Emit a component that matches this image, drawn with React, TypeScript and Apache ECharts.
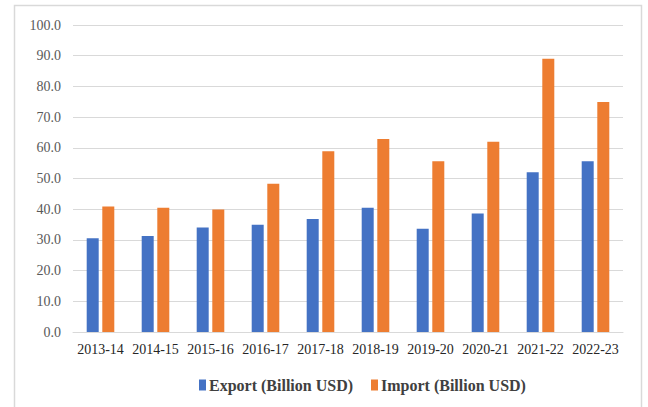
import React, { useEffect, useRef } from "react";
import * as echarts from "echarts";

const categories = ["2013-14", "2014-15", "2015-16", "2016-17", "2017-18", "2018-19", "2019-20", "2020-21", "2021-22", "2022-23"];
const exportValues = [30.5, 31.3, 34.0, 34.9, 36.8, 40.5, 33.6, 38.6, 52.0, 55.6];
const importValues = [40.9, 40.5, 39.9, 48.3, 58.9, 62.9, 55.6, 62.0, 89.0, 74.9];
const seriesNames = ["Export (Billion USD)", "Import (Billion USD)"];

export default function App() {
  const ref = useRef<HTMLDivElement>(null);
  useEffect(() => {
    document.body.style.margin = "0";
    const chart = echarts.init(ref.current!, null, { renderer: "svg" });
    const serif = "Liberation Serif, Times New Roman, serif";
    chart.setOption({
      animation: false,
      backgroundColor: "#ffffff",
      graphic: [
        {
          type: "rect",
          shape: { x: 14.5, y: 5.5, width: 627, height: 430 },
          style: { fill: "none", stroke: "#d9d9d9", lineWidth: 1.5 },
          silent: true,
        },
      ],
      grid: { left: 73, right: 25, top: 25, bottom: 75, containLabel: false },
      legend: {
        top: 372,
        left: 194,
        itemWidth: 7,
        itemHeight: 11,
        itemGap: 18,
        icon: "rect",
        textStyle: { fontFamily: serif, fontSize: 16, fontWeight: "bold", color: "#404040", padding: [0, 0, 0, -2] },
        data: seriesNames,
      },
      xAxis: {
        type: "category",
        data: categories,
        axisLine: { lineStyle: { color: "#d9d9d9", width: 1 } },
        axisTick: { show: false },
        axisLabel: { fontFamily: serif, fontSize: 14, color: "#262626", margin: 10, interval: 0 },
      },
      yAxis: {
        type: "value",
        min: 0,
        max: 100,
        interval: 10,
        axisLine: { show: false },
        axisTick: { show: false },
        splitLine: { lineStyle: { color: "#d9d9d9", width: 1 } },
        axisLabel: {
          fontFamily: serif,
          fontSize: 14,
          color: "#595959",
          margin: 12,
          formatter: (v: number) => v.toFixed(1),
        },
      },
      series: [
        {
          name: seriesNames[0],
          type: "bar",
          data: exportValues,
          barWidth: 12,
          barGap: "30%",
          itemStyle: { color: "#4472c4" },
        },
        {
          name: seriesNames[1],
          type: "bar",
          data: importValues,
          barWidth: 12,
          itemStyle: { color: "#ed7d31" },
        },
      ],
    });
    return () => chart.dispose();
  }, []);
  return <div ref={ref} style={{ width: 648, height: 407 }} />;
}
